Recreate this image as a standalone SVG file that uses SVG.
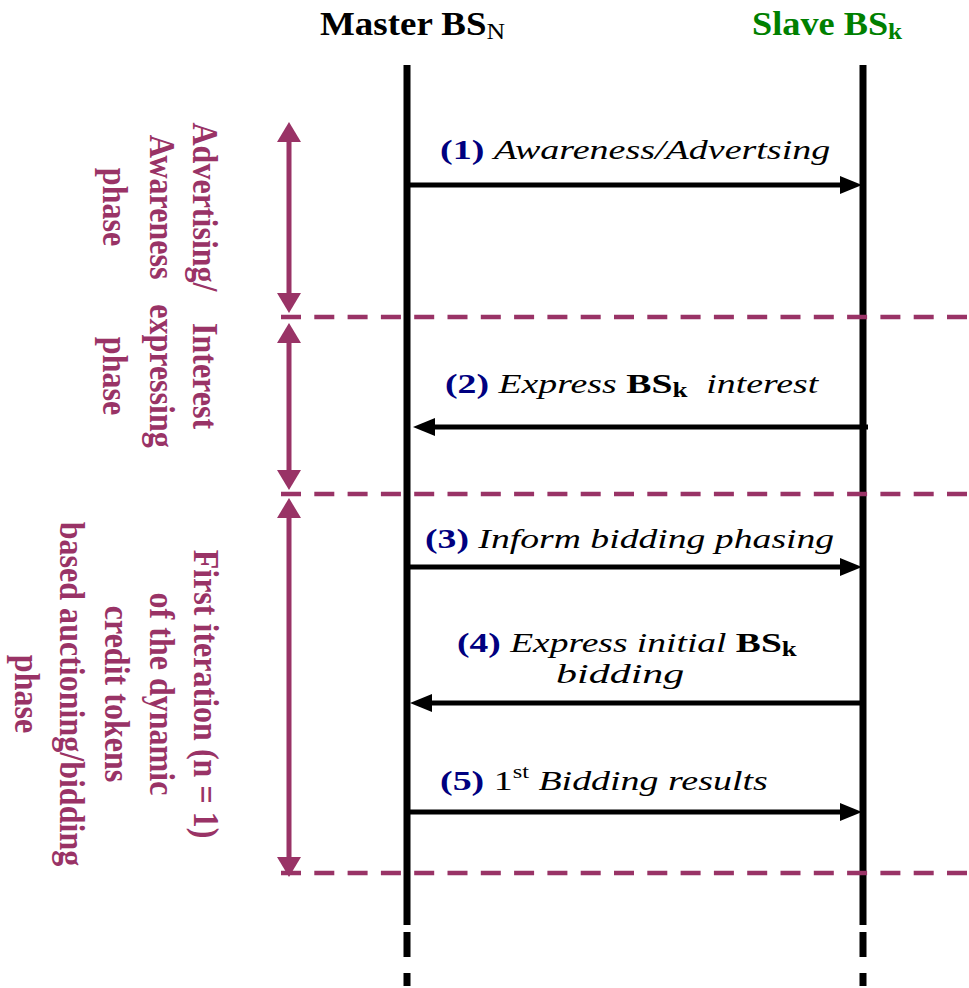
<svg xmlns="http://www.w3.org/2000/svg" width="969" height="988" viewBox="0 0 969 988">
<style>
.hdr{font-family:"Liberation Serif",serif;font-weight:bold;font-size:33px}
.lbl{font-family:"Liberation Serif",serif;font-size:28px;fill:#000}
.num{font-weight:bold;fill:#000080}
.it{font-style:italic}
.b{font-weight:bold}
.ph{font-family:"Liberation Serif",serif;font-weight:bold;font-size:36px;fill:#993366;text-anchor:middle}
.life{stroke:#000;stroke-width:7;fill:none}
.msg{stroke:#000;stroke-width:5;fill:none}
.sep{stroke:#993366;stroke-width:4.5;stroke-dasharray:20 13.3;fill:none}
.span{stroke:#993366;stroke-width:5;fill:none}
</style>
<defs>
<marker id="ah" markerUnits="userSpaceOnUse" markerWidth="22" markerHeight="18" refX="0" refY="9" orient="auto">
<path d="M0,0 L22,9 L0,18 z" fill="#000"/>
</marker>
<marker id="ph" markerUnits="userSpaceOnUse" markerWidth="20" markerHeight="24" refX="0" refY="12" orient="auto-start-reverse">
<path d="M0,0 L20,12 L0,24 z" fill="#993366"/>
</marker>
</defs>
<rect width="969" height="988" fill="#fff"/>

<g id="master">
<text class="hdr" transform="translate(320,35) scale(1.12,1)" fill="#000">Master BS<tspan font-weight="normal" font-size="23" dy="4">N</tspan></text>
<path class="life" d="M407,65 V925 M407,932 V957 M407,973 V986"/>
</g>
<g id="slave">
<text class="hdr" transform="translate(752,35) scale(1.1,1)" fill="#008000">Slave BS<tspan font-size="23" dy="4">k</tspan></text>
<path class="life" d="M863,65 V925 M863,932 V957 M863,973 V986"/>
</g>

<g id="separators">
<path class="sep" d="M281,317 H969 M281,494 H969 M281,873 H969"/>
</g>

<g id="phase1">
<line class="span" x1="289" y1="142" x2="289" y2="293" marker-start="url(#ph)" marker-end="url(#ph)"/>
<text class="ph" transform="translate(193,207) rotate(90) scale(0.89,1)"><tspan x="0" y="0">Advertising/</tspan><tspan x="0" y="43">Awareness</tspan><tspan x="0" y="90">phase</tspan></text>
</g>
<g id="phase2">
<line class="span" x1="289" y1="343" x2="289" y2="470" marker-start="url(#ph)" marker-end="url(#ph)"/>
<text class="ph" transform="translate(193,376) rotate(90) scale(0.89,1)"><tspan x="0" y="0">Interest</tspan><tspan x="0" y="43">expressing</tspan><tspan x="0" y="90">phase</tspan></text>
</g>
<g id="phase3">
<line class="span" x1="289" y1="518" x2="289" y2="857" marker-start="url(#ph)" marker-end="url(#ph)"/>
<text class="ph" transform="translate(194,694) rotate(90) scale(0.89,1)"><tspan x="0" y="0">First iteration (n = 1)</tspan><tspan x="0" y="44">of the dynamic</tspan><tspan x="0" y="89">credit tokens</tspan><tspan x="0" y="134">based auctioning/bidding</tspan><tspan x="0" y="179">phase</tspan></text>
</g>

<g id="connectors">
<line class="msg" x1="407" y1="185" x2="840" y2="185" marker-end="url(#ah)"/>
<line class="msg" x1="868" y1="427" x2="435" y2="427" marker-end="url(#ah)"/>
<line class="msg" x1="407" y1="567" x2="840" y2="567" marker-end="url(#ah)"/>
<line class="msg" x1="863" y1="703" x2="432" y2="703" marker-end="url(#ah)"/>
<line class="msg" x1="407" y1="812" x2="840" y2="812" marker-end="url(#ah)"/>
</g>

<g id="labels">
<text class="lbl" transform="translate(440,159) scale(1.358,1)"><tspan class="num">(1)</tspan> <tspan class="it">Awareness/Advertsing</tspan></text>
<text class="lbl" transform="translate(445,393) scale(1.35,1)" xml:space="preserve"><tspan class="num">(2)</tspan> <tspan class="it">Express</tspan> <tspan class="b">BS</tspan><tspan class="b" font-size="20" dy="4">k</tspan><tspan dy="-4">  </tspan><tspan class="it">interest</tspan></text>
<text class="lbl" transform="translate(425,548) scale(1.346,1)"><tspan class="num">(3)</tspan> <tspan class="it">Inform bidding phasing</tspan></text>
<text class="lbl" transform="translate(457,652) scale(1.34,1)"><tspan class="num">(4)</tspan> <tspan class="it">Express initial</tspan> <tspan class="b">BS</tspan><tspan class="b" font-size="20" dy="4">k</tspan></text>
<text class="lbl it" transform="translate(556,683) scale(1.5,1)">bidding</text>
<text class="lbl" transform="translate(440,790) scale(1.355,1)"><tspan class="num">(5)</tspan> 1<tspan font-size="18" dy="-12">st</tspan><tspan dy="12"> </tspan><tspan class="it">Bidding results</tspan></text>
</g>
</svg>
